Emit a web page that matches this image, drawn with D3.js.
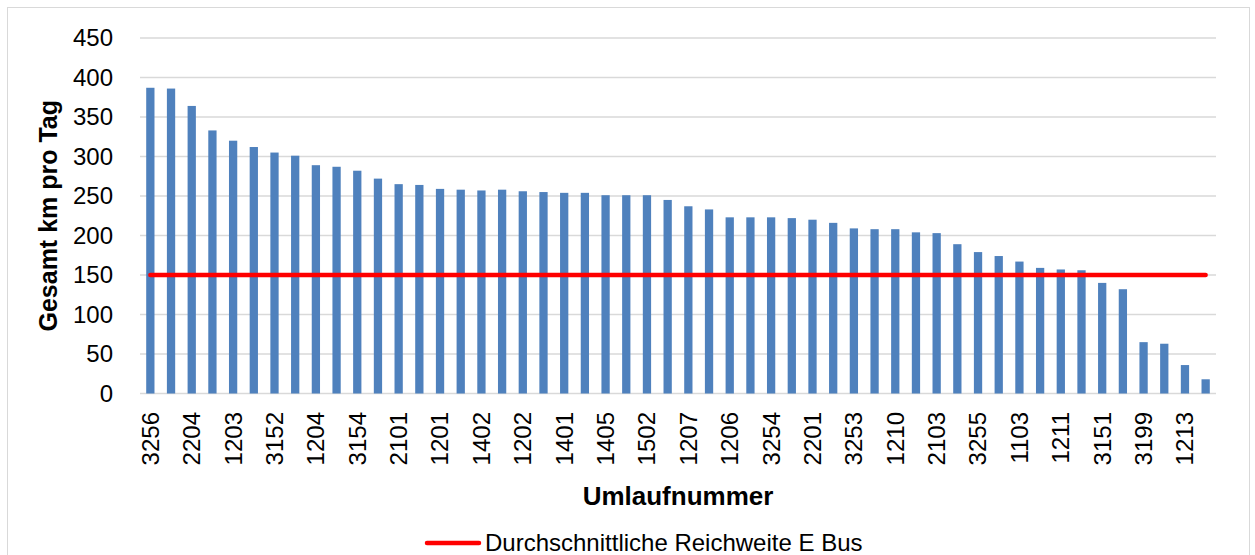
<!DOCTYPE html>
<html><head><meta charset="utf-8">
<script src="https://cdn.jsdelivr.net/npm/d3@7"></script>
<style>
body{margin:0;background:#fff}
svg{display:block}
text{font-family:"Liberation Sans",Arial,sans-serif;fill:#000}
</style>
</head><body>
<svg id="chart" width="1255" height="555"></svg>
<script>
// Category labels (Excel shows every second label; hidden ones are null)
const categoryLabels = ["3256",null,"2204",null,"1203",null,"3152",null,"1204",null,
  "3154",null,"2101",null,"1201",null,"1402",null,"1202",null,"1401",null,"1405",null,
  "1502",null,"1207",null,"1206",null,"3254",null,"2201",null,"3253",null,"1210",null,
  "2103",null,"3255",null,"1103",null,"1211",null,"3151",null,"3199",null,"1213",null];
// Gesamt km pro Tag per Umlauf
const kmPerDay = [387,386,364,333,320,312,305,301,289,287,282,272,265,264,259,258,257,258,256,255,
  254,254,251,251,251,245,237,233,223,223,223,222,220,216,209,208,208,204,203,189,
  179,174,167,159,157,156,140,132,65,63,36,18];
// Durchschnittliche Reichweite E Bus
const averageRange = 150;
const yTicks = [0,50,100,150,200,250,300,350,400,450];
const yTitle = "Gesamt km pro Tag";
const xTitle = "Umlaufnummer";
const legendLabel = "Durchschnittliche Reichweite E Bus";

const svg = d3.select("#chart");
// outer chart border
svg.append("rect").attr("x",7.5).attr("y",7.5).attr("width",1242).attr("height",560)
  .attr("fill","#fff").attr("stroke","#D9D9D9").attr("stroke-width",1);

const pLeft = 140, pRight = 1216, pTop = 38, pBottom = 393.5;
const idx = d3.range(kmPerDay.length);
const x = d3.scaleBand().domain(idx).range([pLeft,pRight]).paddingInner(0).paddingOuter(0);
const y = d3.scaleLinear().domain([0,450]).range([pBottom,pTop]);

// gridlines
svg.append("g").selectAll("line").data(yTicks).join("line")
  .attr("x1",pLeft).attr("x2",pRight)
  .attr("y1",d=>y(d)).attr("y2",d=>y(d))
  .attr("stroke","#D9D9D9").attr("stroke-width",1.5);

// y tick labels
const yAxis = d3.axisLeft(y).tickValues(yTicks).tickSize(0).tickPadding(0);
const gy = svg.append("g").attr("transform",`translate(${113},0)`).call(yAxis);
gy.select(".domain").remove();
gy.selectAll("text").attr("font-size",24).attr("font-family",'"Liberation Sans",Arial,sans-serif').attr("fill","#000");

// bars
const barW = x.bandwidth()*0.4;
svg.append("g").selectAll("rect").data(kmPerDay).join("rect")
  .attr("x",(d,i)=>x(i)+x.bandwidth()/2-barW/2)
  .attr("y",d=>y(d))
  .attr("width",barW)
  .attr("height",d=>y(0)-y(d))
  .attr("fill","#4F81BD");

// x tick labels (rotated)
const xAxis = d3.axisBottom(x).tickSize(0).tickPadding(0).tickFormat(i=>categoryLabels[i]||"");
const gx = svg.append("g").attr("transform",`translate(0,${pBottom})`).call(xAxis);
gx.select(".domain").remove();
gx.selectAll("text")
  .attr("font-size",24).attr("font-family",'"Liberation Sans",Arial,sans-serif').attr("fill","#000")
  .attr("text-anchor","end")
  .attr("transform","rotate(-90)")
  .attr("x",-(412-pBottom)).attr("y",0).attr("dy","0.35em");

// average range line
const line = d3.line().x(d=>x(d)+x.bandwidth()/2).y(()=>y(averageRange));
svg.append("path").datum([0,kmPerDay.length-1]).attr("d",line)
  .attr("stroke","#FF0000").attr("stroke-width",4.5).attr("stroke-linecap","round").attr("fill","none");

// axis titles
svg.append("text").attr("x",(pLeft+pRight)/2).attr("y",505).attr("text-anchor","middle")
  .attr("font-size",26).attr("font-weight","bold").text(xTitle);
svg.append("text").attr("transform",`translate(${57},${(pTop+pBottom)/2}) rotate(-90)`)
  .attr("text-anchor","middle").attr("font-size",25).attr("font-weight","bold").text(yTitle);

// legend
svg.append("line").attr("x1",427).attr("x2",479).attr("y1",543).attr("y2",543)
  .attr("stroke","#FF0000").attr("stroke-width",4.5).attr("stroke-linecap","round");
svg.append("text").attr("x",485).attr("y",551).attr("font-size",24).text(legendLabel);
</script>
</body></html>
